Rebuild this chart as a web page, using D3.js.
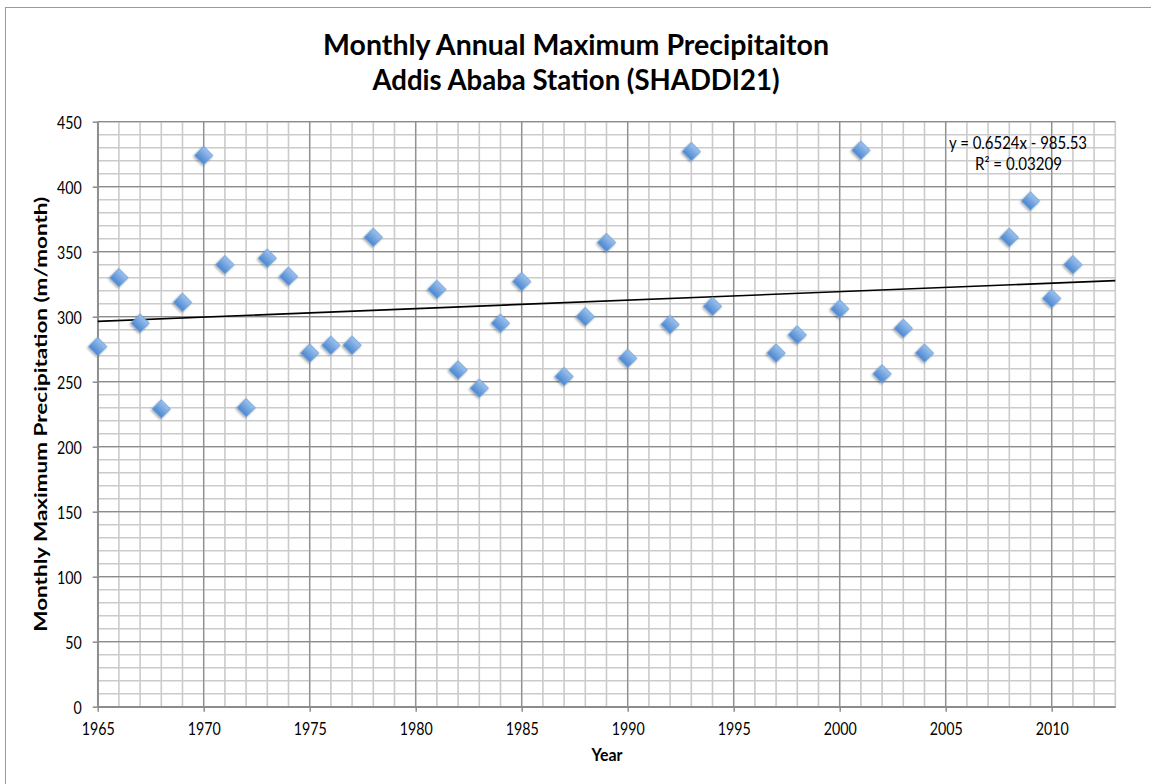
<!DOCTYPE html>
<html>
<head>
<meta charset="utf-8">
<script src="https://cdnjs.cloudflare.com/ajax/libs/d3/7.8.5/d3.min.js"></script>
<style>
  body { margin: 0; background: #fff; }
  text { font-family: Lato, "Open Sans", sans-serif; fill: #000; }
</style>
</head>
<body>
<div id="chart"></div>
<script>
// Data
var years = [1965, 1966, 1967, 1968, 1969, 1970, 1971, 1972, 1973, 1974, 1975, 1976, 1977, 1978,
             1981, 1982, 1983, 1984, 1985, 1987, 1988, 1989, 1990, 1992, 1993, 1994,
             1997, 1998, 2000, 2001, 2002, 2003, 2004, 2008, 2009, 2010, 2011];
var precip = [277, 330, 295, 229, 311, 424, 340, 230, 345, 331, 272, 278, 278, 361,
              321, 259, 245, 295, 327, 254, 300, 357, 268, 294, 427, 308,
              272, 286, 306, 428, 256, 291, 272, 361, 389, 314, 340];
var xTicks = [1965, 1970, 1975, 1980, 1985, 1990, 1995, 2000, 2005, 2010];
var yTicks = [0, 50, 100, 150, 200, 250, 300, 350, 400, 450];
var trend = [0.6524, -985.53]; // slope, intercept
var titleLines = ["Monthly Annual Maximum Precipitaiton", "Addis Ababa Station (SHADDI21)"];

var width = 1151, height = 784;
var margin = { left: 97.7, right: 1115.3, top: 121.7, bottom: 706.7 };
var digitW = 8.25; // width of one tick digit

var svg = d3.select("#chart").append("svg")
    .attr("width", width)
    .attr("height", height);

// chart frame (only left and top edges are visible)
svg.append("rect")
    .attr("x", 5.5).attr("y", 7.5)
    .attr("width", 1200).attr("height", 900)
    .attr("fill", "none")
    .attr("stroke", "#9a9a9a")
    .attr("stroke-width", 1);

var x = d3.scaleLinear().domain([1965, 2013]).range([margin.left, margin.right]);
var y = d3.scaleLinear().domain([0, 450]).range([margin.bottom, margin.top]);

// minor grid
var g = svg.append("g");
g.selectAll("line.mx")
    .data(d3.range(1965, 2014, 1))
    .enter().append("line")
    .attr("x1", d => x(d)).attr("x2", d => x(d))
    .attr("y1", margin.top).attr("y2", margin.bottom)
    .attr("stroke", "#cbcbcb").attr("stroke-width", 1.6);
g.selectAll("line.my")
    .data(d3.range(0, 451, 10))
    .enter().append("line")
    .attr("y1", d => y(d)).attr("y2", d => y(d))
    .attr("x1", margin.left).attr("x2", margin.right)
    .attr("stroke", "#cbcbcb").attr("stroke-width", 1.6);

// major grid
g.selectAll("line.Mx")
    .data(xTicks)
    .enter().append("line")
    .attr("x1", d => x(d)).attr("x2", d => x(d))
    .attr("y1", margin.top).attr("y2", margin.bottom)
    .attr("stroke", "#8c8c8c").attr("stroke-width", 1.2);
g.selectAll("line.My")
    .data(yTicks)
    .enter().append("line")
    .attr("y1", d => y(d)).attr("y2", d => y(d))
    .attr("x1", margin.left).attr("x2", margin.right)
    .attr("stroke", "#8c8c8c").attr("stroke-width", 1.2);

// axes
var xAxis = svg.append("g")
    .attr("transform", "translate(0," + margin.bottom + ")")
    .call(d3.axisBottom(x).tickValues(xTicks).tickFormat(d3.format("d")).tickSize(5).tickSizeOuter(0).tickPadding(12));
var yAxis = svg.append("g")
    .attr("transform", "translate(" + margin.left + ",0)")
    .call(d3.axisLeft(y).tickValues(yTicks).tickSize(5).tickSizeOuter(0).tickPadding(11));
[xAxis, yAxis].forEach(function(a) {
    a.select(".domain").attr("stroke", "#8c8c8c").attr("stroke-width", 1.5);
    a.selectAll(".tick line").attr("stroke", "#8c8c8c").attr("stroke-width", 1.5);
    a.selectAll(".tick text")
        .style("font-size", "16.5px")
        .style("font-family", "Lato, 'Open Sans', sans-serif")
        .attr("fill", "#000")
        .attr("lengthAdjust", "spacingAndGlyphs")
        .attr("textLength", function() { return this.textContent.length * digitW; });
});
yAxis.selectAll(".tick text").attr("dy", "0.4em");

// trend line
svg.append("line")
    .attr("x1", x(1965)).attr("y1", y(trend[0] * 1965 + trend[1]))
    .attr("x2", x(2013)).attr("y2", y(trend[0] * 2013 + trend[1]))
    .attr("stroke", "#000").attr("stroke-width", 1.6);

// markers
var defs = svg.append("defs");
var grad = defs.append("linearGradient").attr("id", "mk").attr("x1", 0).attr("y1", 0).attr("x2", 0).attr("y2", 1);
grad.append("stop").attr("offset", "0%").attr("stop-color", "#9cc2ee");
grad.append("stop").attr("offset", "100%").attr("stop-color", "#4a86d0");
var shadow = defs.append("filter").attr("id", "sh").attr("x", "-50%").attr("y", "-50%").attr("width", "200%").attr("height", "200%");
shadow.append("feDropShadow").attr("dx", 0).attr("dy", 1.5).attr("stdDeviation", 1.2).attr("flood-color", "#000").attr("flood-opacity", 0.35);

var diamond = d3.symbol().type(d3.symbolSquare).size(165);
svg.append("g").selectAll("path")
    .data(years)
    .enter().append("path")
    .attr("d", diamond)
    .attr("transform", (d, i) => "translate(" + x(d) + "," + y(precip[i]) + ") rotate(45)")
    .attr("fill", "url(#mk)")
    .attr("stroke", "#6f9fd8")
    .attr("stroke-width", 0.8)
    .attr("filter", "url(#sh)");

// trend equation
svg.append("text")
    .attr("x", 1018).attr("y", 149)
    .attr("text-anchor", "middle")
    .style("font-size", "16.5px")
    .attr("lengthAdjust", "spacingAndGlyphs")
    .attr("textLength", 138)
    .text("y = 0.6524x - 985.53");
svg.append("text")
    .attr("x", 1018.5).attr("y", 170)
    .attr("text-anchor", "middle")
    .style("font-size", "16.5px")
    .attr("lengthAdjust", "spacingAndGlyphs")
    .attr("textLength", 87)
    .text("R² = 0.03209");

// titles
var titleWidths = [506, 407];
svg.selectAll("text.title")
    .data(titleLines)
    .enter().append("text")
    .attr("x", 576)
    .attr("y", (d, i) => 55 + i * 35)
    .attr("text-anchor", "middle")
    .style("font-size", "28px")
    .style("font-weight", "bold")
    .attr("lengthAdjust", "spacingAndGlyphs")
    .attr("textLength", (d, i) => titleWidths[i])
    .text(d => d);

svg.append("text")
    .attr("x", 607)
    .attr("y", 761)
    .attr("text-anchor", "middle")
    .style("font-size", "16.5px")
    .style("font-weight", "bold")
    .attr("lengthAdjust", "spacingAndGlyphs")
    .attr("textLength", 31)
    .text("Year");

svg.append("text")
    .attr("transform", "translate(47," + (margin.top + margin.bottom) / 2 + ") rotate(-90)")
    .attr("text-anchor", "middle")
    .style("font-size", "16.5px")
    .style("font-weight", "bold")
    .attr("lengthAdjust", "spacingAndGlyphs")
    .attr("textLength", 435)
    .text("Monthly Maximum Precipitation (m/month)");
</script>
</body>
</html>
